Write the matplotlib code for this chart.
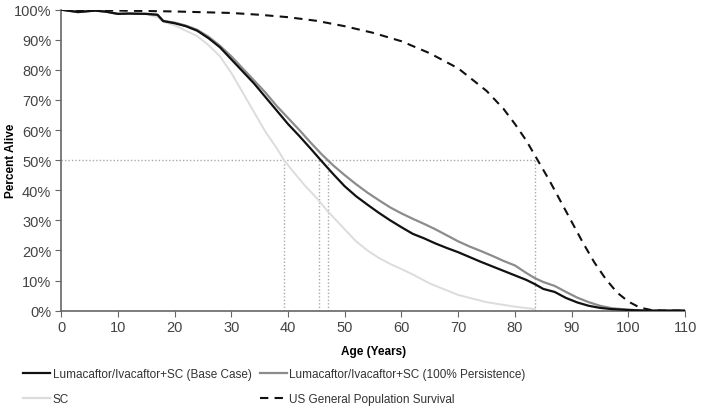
import matplotlib
matplotlib.use("Agg")
import matplotlib.pyplot as plt
from matplotlib.lines import Line2D

plt.rcParams['font.family'] = ['Liberation Sans', 'DejaVu Sans']

# survival curves (age in years, percent alive)
base_age = [0, 3, 6, 8, 10, 12, 15, 17, 18, 20, 22, 24, 26, 28, 30, 32, 34, 36, 38, 40, 42, 44, 46, 48, 50,
            52, 54, 56, 58, 60, 62, 64, 66, 68, 70, 72, 74, 76, 78, 80, 82, 83.5, 85, 87, 89, 91, 93, 95, 97,
            100, 103, 110]
base_pct = [100, 99.2, 99.7, 99.3, 98.6, 98.7, 98.6, 98.3, 96.2, 95.5, 94.5, 93, 90.5, 87.5, 83.5, 79.5, 75.5,
            71, 66.5, 62, 58, 53.8, 49.5, 45.3, 41.3, 38, 35.2, 32.5, 30, 27.7, 25.5, 24, 22.3, 20.8, 19.4,
            17.8, 16.2, 14.7, 13.2, 11.7, 10.2, 8.8, 7.2, 6.2, 4.2, 2.7, 1.6, 0.9, 0.5, 0.2, 0, 0]

pers_age = [0, 3, 6, 8, 10, 12, 15, 17, 18, 20, 22, 24, 26, 28, 30, 32, 34, 36, 38, 40, 42, 44, 46, 48, 50,
            52, 54, 56, 58, 60, 62, 64, 66, 68, 70, 72, 74, 76, 78, 80, 82, 83.5, 85, 87, 89, 91, 93, 95, 97,
            100, 103, 110]
pers_pct = [100, 99.2, 99.7, 99.3, 98.6, 98.7, 98.6, 98.3, 96.3, 95.7, 94.7, 93.3, 91, 88, 84.5, 80.5, 76.5,
            72.5, 68, 64, 60, 55.8, 51.8, 48.2, 45, 42, 39.2, 36.7, 34.3, 32.3, 30.5, 28.8, 27, 25, 23, 21.3,
            19.8, 18.2, 16.5, 15, 12.5, 10.8, 9.5, 8.2, 6.2, 4.3, 2.8, 1.6, 0.8, 0.3, 0, 0]

sc_age = [0, 3, 6, 8, 10, 12, 15, 17, 18, 20, 22, 24, 26, 28, 30, 32, 34, 36, 38, 39.3, 41, 43, 45, 47, 49,
          50, 52, 54, 56, 58, 60, 62, 65, 70, 75, 80, 83.5]
sc_pct = [100, 99.2, 99.7, 99.3, 98.6, 98.7, 98.5, 97.5, 96, 94.8, 93, 91.2, 88.2, 84.5, 79, 72.5, 66, 59.5,
          54, 50, 46, 41.5, 37.5, 33, 29, 27, 23, 20, 17.5, 15.5, 13.8, 12, 9, 5.2, 2.8, 1.3, 0.5]

us_age = [0, 10, 20, 30, 35, 40, 45, 50, 55, 60, 65, 70, 75, 78, 80, 82, 84, 86, 88, 90, 92, 94, 96, 98,
          100, 102, 104, 106, 110]
us_pct = [100, 99.7, 99.4, 98.9, 98.3, 97.5, 96.3, 94.5, 92.3, 89.5, 85.5, 80.5, 73, 67, 62, 56.5, 50, 43.5,
          36.5, 29.5, 22.5, 16, 10.5, 6, 3, 1, 0.2, 0, 0]

median_ages = [39.3, 45.5, 47.1, 83.6]

labels = ['Lumacaftor/Ivacaftor+SC (Base Case)',
          'Lumacaftor/Ivacaftor+SC (100% Persistence)',
          'SC',
          'US General Population Survival']

fig = plt.figure(figsize=(7.02, 4.10), dpi=100)
ax = fig.add_axes([0.087, 0.24, 0.889, 0.734])

# 50% guide lines
ax.plot([0, max(median_ages)], [50, 50], color='#aaaaaa', lw=1, ls=(0, (1, 1.5)), zorder=1)
for m in median_ages:
    ax.plot([m, m], [0, 50], color='#aaaaaa', lw=1, ls=(0, (1, 1.5)), zorder=1)

ax.plot(sc_age, sc_pct, color='#dcdcdc', lw=1.4, zorder=2)
ax.plot(pers_age, pers_pct, color='#8c8c8c', lw=1.6, zorder=3)
ax.plot(base_age, base_pct, color='#111111', lw=1.6, zorder=4)
ax.plot(us_age, us_pct, color='#111111', lw=1.5, ls=(0, (4, 3)), zorder=5)

ax.set_xlim(0, 110)
ax.set_ylim(0, 100)
ax.set_xticks(range(0, 111, 10))
ax.set_yticks(range(0, 101, 10))
ax.set_yticklabels(['{}%'.format(v) for v in range(0, 101, 10)])
for s in ['top', 'right']:
    ax.spines[s].set_visible(False)
for s in ['left', 'bottom']:
    ax.spines[s].set_color('#666666')
    ax.spines[s].set_linewidth(1.2)
ax.tick_params(colors='#666666', labelcolor='#444444', labelsize=10.5, length=4, pad=3)
ax.set_xlabel('Age (Years)', fontsize=8.5, fontweight='bold')
ax.set_ylabel('Percent Alive', fontsize=8.5, fontweight='bold')
ax.xaxis.set_label_coords(0.5, -0.115)
ax.yaxis.set_label_coords(-0.07, 0.5)

handles = [Line2D([], [], color='#111111', lw=1.6),
           Line2D([], [], color='#dcdcdc', lw=1.6),
           Line2D([], [], color='#8c8c8c', lw=1.6),
           Line2D([], [], color='#111111', lw=1.5, ls=(0, (4, 3)))]
order = [labels[0], labels[2], labels[1], labels[3]]
fig.legend(handles, order, loc='upper left', bbox_to_anchor=(0.033, 0.099), ncol=2,
           frameon=False, fontsize=8.5, handlelength=2.3,
           handletextpad=0.2, columnspacing=0.7, labelspacing=1.1, borderpad=0,
           borderaxespad=0, labelcolor='#333333')

fig.savefig('out.png', dpi=100)
